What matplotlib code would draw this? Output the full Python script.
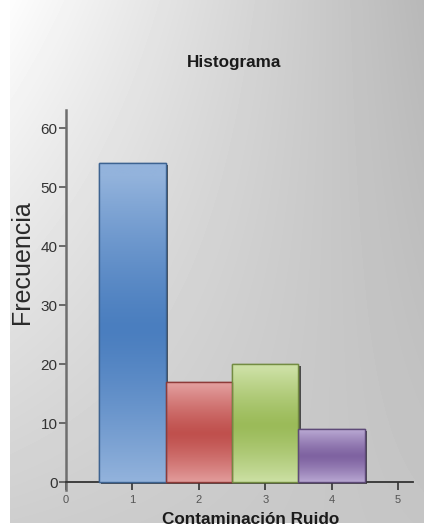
import numpy as np
import matplotlib
matplotlib.use("Agg")
import matplotlib.pyplot as plt
from matplotlib import patheffects as pe
from matplotlib.colors import to_rgb

plt.rcParams['font.family'] = ['Liberation Sans', 'DejaVu Sans']

# Data
categories = [1, 2, 3, 4]
frequencies = [54, 17, 20, 9]
x_ticks = [0, 1, 2, 3, 4, 5]
y_ticks = [0, 10, 20, 30, 40, 50, 60]
title = "Histograma"
x_label = "Contaminación Ruido"
y_label = "Frecuencia"

# Bar colours: (light edge tone, deep middle tone, outline)
bar_styles = [
    ("#93b3dc", "#4a7ebf", "#3d6391"),
    ("#e29c9b", "#c0504d", "#8e3b39"),
    ("#cce0a4", "#9bbb59", "#738c42"),
    ("#b8a7d2", "#7f63a1", "#5e4a78"),
]

W, H, DPI = 424, 531, 100
fig = plt.figure(figsize=(W / DPI, H / DPI), dpi=DPI)
fig.patch.set_facecolor("white")

# Background panel with a diagonal grey gradient and a thin white margin
bg = fig.add_axes([0, 0, 1, 1], zorder=-5)
left_px, top_px = 10, 8
gx = np.linspace(0, 1, W - left_px)
gy = np.linspace(0, 1, H - top_px)[:, None]
tl, tr, bl, br = 253, 184, 206, 197
grad = (tl * (1 - gx) * (1 - gy) + tr * gx * (1 - gy)
        + bl * (1 - gx) * gy + br * gx * gy) / 255.0
bg.imshow(grad, cmap="gray", vmin=0, vmax=1, aspect="auto",
          extent=[left_px, W, H - top_px, 0], interpolation="bilinear")
bg.set_xlim(0, W)
bg.set_ylim(H, 0)
bg.axis("off")

# Main axes
x0, x1 = -0.2, 5.3
y0, y1 = -1.5, 63.5
px_left = 66 + 66.4 * x0
px_right = 66 + 66.4 * x1
py_bottom = 482 - 5.9 * y0
py_top = 482 - 5.9 * y1
ax = fig.add_axes([px_left / W, 1 - py_bottom / H,
                   (px_right - px_left) / W, (py_bottom - py_top) / H])
ax.patch.set_alpha(0)
ax.set_xlim(x0, x1)
ax.set_ylim(y0, y1)

for side in ("top", "right"):
    ax.spines[side].set_visible(False)
ax.spines["left"].set_position(("data", 0))
ax.spines["bottom"].set_position(("data", 0))
ax.spines["left"].set_bounds(-1.4, 63)
ax.spines["bottom"].set_bounds(0, 5.23)
ax.spines["left"].set_color("#6e6e6e")
ax.spines["left"].set_linewidth(1.8)
ax.spines["bottom"].set_color("#333333")
ax.spines["bottom"].set_linewidth(1.3)

ax.set_xticks(x_ticks)
ax.set_yticks(y_ticks)
ax.tick_params(axis="y", direction="out", length=5, width=1.2,
               color="#555555", labelsize=11, labelcolor="#333333", pad=1)
ax.tick_params(axis="x", direction="out", length=6, width=1.2,
               color="#333333", labelsize=8, labelcolor="#555555", pad=3)

# Glossy gradient bars
n = 256
t = np.linspace(0, 1, n)[:, None]
for xc, val, (light, deep, edge) in zip(categories, frequencies, bar_styles):
    bars = ax.bar(xc, val, width=1.0, facecolor=deep, edgecolor=edge,
                  linewidth=1.0, zorder=3)
    rect = bars[0]
    rect.set_path_effects([
        pe.SimplePatchShadow(offset=(1.6, -1.2), shadow_rgbFace="#2a2a2a",
                             alpha=0.8),
        pe.Normal(),
    ])
    lc = np.array(to_rgb(light))
    dc = np.array(to_rgb(deep))
    s = np.clip(np.abs(t - 0.52) / 0.48, 0, 1) ** 1.3
    img = (dc[None, None, :] * (1 - s[:, :, None])
           + lc[None, None, :] * s[:, :, None])
    img = np.repeat(img, 2, axis=1)
    im = ax.imshow(img, extent=[xc - 0.5, xc + 0.5, 0, val], origin="upper",
                   aspect="auto", interpolation="bilinear", zorder=3.5)
    im.set_clip_path(rect)
    outline = plt.Rectangle((xc - 0.5, 0), 1.0, val, fill=False,
                            edgecolor=edge, linewidth=1.0, zorder=4)
    ax.add_patch(outline)

ax.set_xlim(x0, x1)
ax.set_ylim(y0, y1)

# Texts
fig.text(234 / W, 1 - 63 / H, title, ha="center", va="center",
         fontsize=12.3, fontweight="bold", color="#1a1a1a")
fig.text(251 / W, 1 - 519 / H, x_label, ha="center", va="center",
         fontsize=12.3, fontweight="bold", color="#1a1a1a")
fig.text(22 / W, 1 - 262 / H, y_label, ha="center", va="center",
         rotation=90, fontsize=18, color="#2a2a2a")

fig.savefig("out.png", dpi=DPI)
